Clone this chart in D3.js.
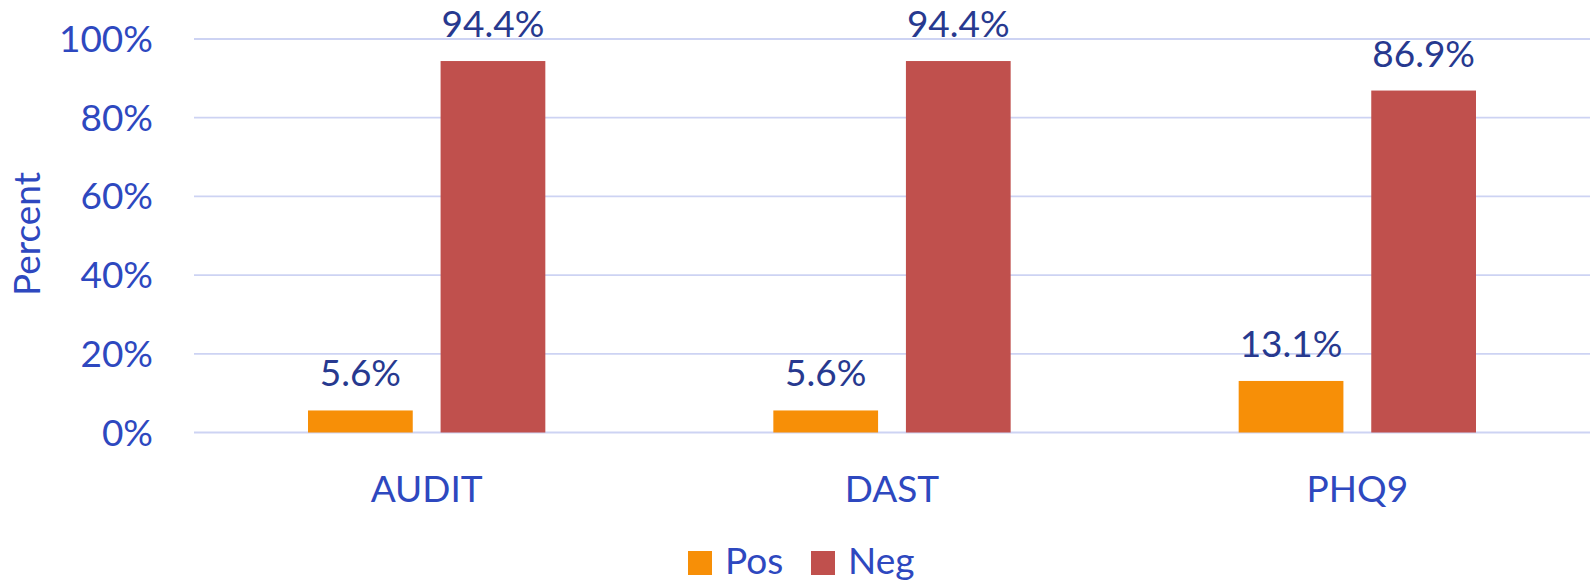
<!DOCTYPE html>
<html>
<head>
<meta charset="utf-8">
<script src="https://cdn.jsdelivr.net/npm/d3@7"></script>
<style>
  html, body { margin: 0; padding: 0; background: #fff; }
  svg { display: block; }
  text { font-family: Lato, "Open Sans", sans-serif; }
</style>
</head>
<body>
<svg id="chart" width="1591" height="582"></svg>
<script>
const categories = ["AUDIT", "DAST", "PHQ9"];
const seriesNames = ["Pos", "Neg"];
const posValues = [5.6, 5.6, 13.1];
const negValues = [94.4, 94.4, 86.9];
const yTicks = [0, 20, 40, 60, 80, 100];
const colors = { Pos: "#F78F07", Neg: "#C0504D" };

(function () {
const svg = d3.select("#chart");
const plotLeft = 194, plotRight = 1590, plotTop = 39, plotBottom = 432.5;

const x0 = d3.scaleBand().domain(categories).range([plotLeft, plotRight]).padding(0);
const bw = x0.bandwidth();
const outer = bw * 0.245;
const x1 = d3.scaleBand().domain(seriesNames).range([outer, bw - outer]).paddingInner(0.21).paddingOuter(0);
const y = d3.scaleLinear().domain([0, 100]).range([plotBottom, plotTop]);

const axisColor = "#2E48BF";
const labelColor = "#27398F";

// gridlines
svg.append("g").selectAll("line").data(yTicks).join("line")
  .attr("x1", plotLeft).attr("x2", plotRight)
  .attr("y1", d => y(d)).attr("y2", d => y(d))
  .attr("stroke", "#CDD3F3").attr("stroke-width", 1.8);

// y tick labels
svg.append("g").selectAll("text").data(yTicks).join("text")
  .attr("x", 153).attr("y", d => y(d) + 13)
  .attr("text-anchor", "end")
  .attr("fill", axisColor).attr("font-size", 37)
  .text(d => d + "%");

// y title
svg.append("text")
  .attr("transform", "translate(40,234) rotate(-90)")
  .attr("text-anchor", "middle")
  .attr("fill", axisColor).attr("font-size", 37)
  .text("Percent");

const rows = categories.map((c, i) => ({ cat: c, Pos: posValues[i], Neg: negValues[i] }));

const groups = svg.append("g").selectAll("g").data(rows).join("g")
  .attr("transform", d => `translate(${x0(d.cat)},0)`);

groups.selectAll("rect").data(d => seriesNames.map(s => ({ s, v: d[s] }))).join("rect")
  .attr("x", d => x1(d.s)).attr("width", x1.bandwidth())
  .attr("y", d => y(d.v)).attr("height", d => y(0) - y(d.v))
  .attr("fill", d => colors[d.s]);

groups.selectAll("text.lbl").data(d => seriesNames.map(s => ({ s, v: d[s] }))).join("text")
  .attr("class", "lbl")
  .attr("x", d => x1(d.s) + x1.bandwidth() / 2)
  .attr("y", d => y(d.v) - 24)
  .attr("text-anchor", "middle")
  .attr("fill", labelColor).attr("font-size", 37)
  .text(d => d.v.toFixed(1) + "%");

// category labels
svg.append("g").selectAll("text").data(categories).join("text")
  .attr("x", d => x0(d) + bw / 2).attr("y", 502)
  .attr("text-anchor", "middle")
  .attr("fill", axisColor).attr("font-size", 37)
  .text(d => d);

// legend
const legendX = { Pos: 688, Neg: 811 };
const lg = svg.append("g").selectAll("g").data(seriesNames).join("g")
  .attr("transform", d => `translate(${legendX[d]},551)`);
lg.append("rect").attr("width", 24).attr("height", 24).attr("fill", d => colors[d]);
lg.append("text").attr("x", 37).attr("y", 23)
  .attr("fill", axisColor).attr("font-size", 37)
  .text(d => d);
})();
</script>
</body>
</html>
